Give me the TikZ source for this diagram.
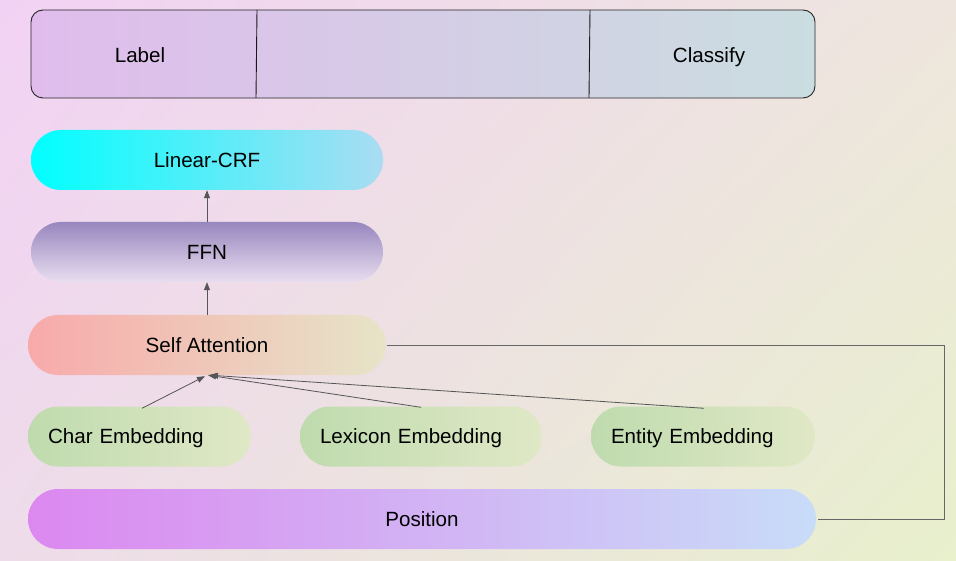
\documentclass[tikz,border=0pt]{standalone}
\usepackage{fontspec}
\setmainfont{Liberation Sans}
\usetikzlibrary{arrows.meta,shadings}
\definecolor{bgTL}{HTML}{F2D2F4}
\definecolor{bgTR}{HTML}{EEE6DE}
\definecolor{bgBL}{HTML}{EEDCEA}
\definecolor{bgBR}{HTML}{E8F0CC}
\definecolor{topL}{HTML}{E0BCEC}
\definecolor{topR}{HTML}{CADDE0}
\definecolor{crfL}{HTML}{00FFFF}
\definecolor{crfR}{HTML}{AADCF2}
\definecolor{ffnT}{HTML}{9886BE}
\definecolor{ffnB}{HTML}{E8DEF0}
\definecolor{saL}{HTML}{F8AAAA}
\definecolor{saR}{HTML}{E6E4C8}
\definecolor{embL}{HTML}{BFDBAE}
\definecolor{embR}{HTML}{E0E8C6}
\definecolor{posL}{HTML}{DC88F0}
\definecolor{posR}{HTML}{C8DCF8}
\definecolor{linec}{HTML}{555555}
\begin{document}
\begin{tikzpicture}[x=1pt,y=1pt,
  txt/.style={font=\fontsize{20.6}{24}\selectfont, text=black},
  pill/.style={rounded corners=30pt, minimum height=60pt, inner sep=0pt, txt},
  ctr/.style={text height=14.8pt, text depth=0pt},
  emb/.style={pill, left color=embL, right color=embR, align=left, ctr},
  arr/.style={draw=linec, line width=0.8pt, -{Triangle[length=8pt,width=6pt]}},
  conn/.style={draw=linec!90, line width=0.8pt}
]
\useasboundingbox (0,0) rectangle (956,-561);
\shade[upper left=bgTL, upper right=bgTR, lower left=bgBL, lower right=bgBR] (0,0) rectangle (956,-561);

% top box
\node[draw=black!85, line width=0.9pt, rounded corners=12pt, left color=topL, right color=topR,
      minimum width=784pt, minimum height=88pt, inner sep=0pt] (top) at (423,-54) {};
\draw[black!90, line width=0.9pt] (257,-10) -- (256,-98);
\draw[black!90, line width=0.9pt] (590,-10) -- (589,-98);
\node[txt, ctr, inner sep=0pt] (label) at (140,-55) {Label};
\node[txt, ctr, inner sep=0pt] (classify) at (709,-55) {Classify};

% stack
\node[pill, ctr, minimum width=352pt, left color=crfL, right color=crfR] (crf) at (207,-160) {Linear-CRF};
\node[pill, ctr, minimum width=352pt, top color=ffnT, bottom color=ffnB] (ffn) at (207,-252) {FFN};
\node[pill, ctr, minimum width=358pt, left color=saL, right color=saR] (sa) at (207,-345) {Self Attention};

\node[emb, minimum width=223pt, text width=183pt] (char) at (139.5,-436.5) {Char Embedding};
\node[emb, minimum width=242pt, text width=202pt] (lex) at (421,-436.5) {Lexicon Embedding};
\node[emb, minimum width=224pt, text width=184pt] (ent) at (703,-436.5) {Entity Embedding};

\node[pill, ctr, minimum width=788pt, left color=posL, right color=posR] (pos) at (422,-519) {Position};

% arrows
\draw[arr] (ffn.north) -- (crf.south);
\draw[arr] (sa.north) -- (ffn.south);
\draw[arr] ([xshift=2.5pt,yshift=-2pt]char.north) -- ([xshift=-2pt,yshift=-1pt]sa.south);
\draw[arr] ([yshift=-1pt]lex.north) -- ([xshift=1pt]sa.south);
\draw[arr] ([xshift=1pt,yshift=-2pt]ent.north) -- ([xshift=3pt]sa.south);

% side connector
\coordinate (c1) at (944,-345);
\coordinate (c2) at (944,-519);
\draw[conn] ([xshift=1pt]sa.east) -- (c1) -- (c2) -- ([xshift=2pt]pos.east);
\end{tikzpicture}
\end{document}
